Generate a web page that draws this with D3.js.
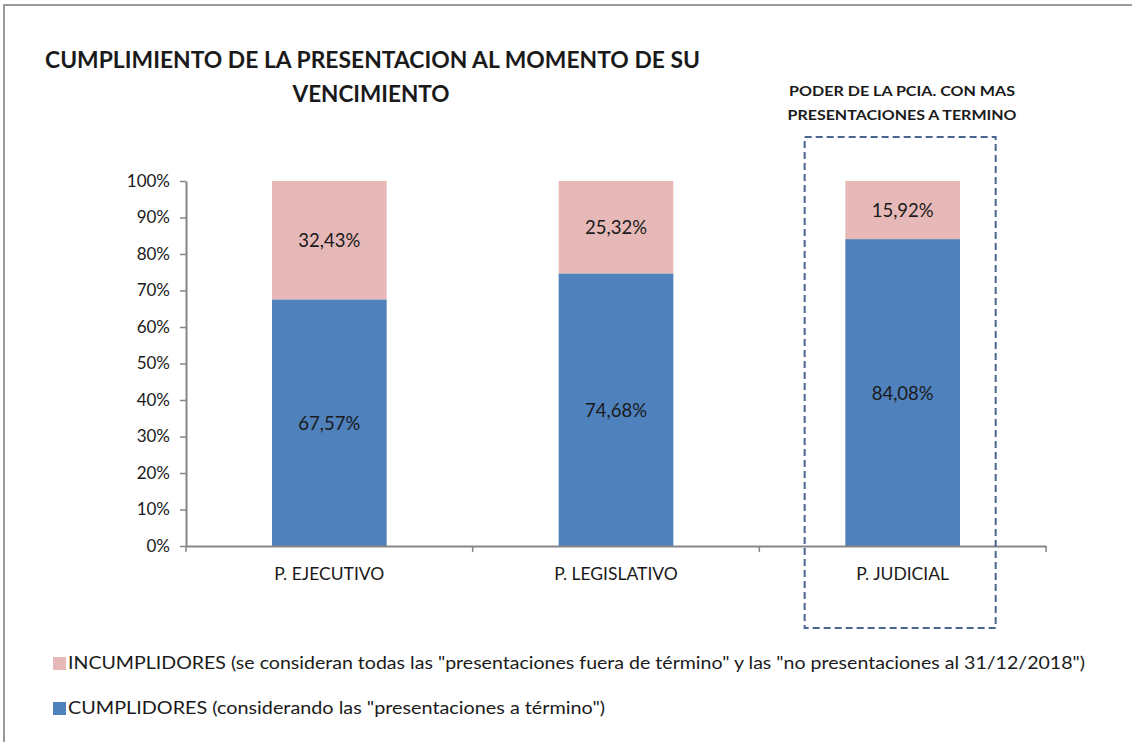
<!DOCTYPE html>
<html><head><meta charset="utf-8">
<script src="https://cdn.jsdelivr.net/npm/d3@7"></script>
<style>
body{margin:0;background:#fff;}
svg text{font-family:Lato,"Open Sans",sans-serif;fill:#1a1a1a;}
</style></head>
<body>
<svg id="c" width="1132" height="742"></svg>
<script>
const categories = ["P. EJECUTIVO", "P. LEGISLATIVO", "P. JUDICIAL"];
const cumplidores = [67.57, 74.68, 84.08];
const incumplidores = [32.43, 25.32, 15.92];
const yTicks = [0,10,20,30,40,50,60,70,80,90,100];
const seriesNames = ["INCUMPLIDORES (se consideran todas las \"presentaciones fuera de término\" y las \"no presentaciones al 31/12/2018\")",
                     "CUMPLIDORES (considerando las \"presentaciones a término\")"];
const titleLines = ["CUMPLIMIENTO DE LA PRESENTACION AL MOMENTO DE SU", "VENCIMIENTO"];
const noteLines = ["PODER DE LA PCIA. CON MAS", "PRESENTACIONES A TERMINO"];
const colors = {cump:"#4F81BD", inc:"#E6B9B8"};

const svg = d3.select("#c");
// outer border
svg.append("rect").attr("x",4).attr("y",5).attr("width",1200).attr("height",800)
  .attr("fill","none").attr("stroke","#9a9a9a").attr("stroke-width",2);

const x = d3.scaleBand().domain(categories).range([186,1046]).paddingInner(0.6).paddingOuter(0.3);
const y = d3.scaleLinear().domain([0,100]).range([546,181]);

function fitText(sel, w){ sel.attr("textLength", w).attr("lengthAdjust","spacingAndGlyphs"); }

// title
svg.append("text").attr("x",45).attr("y",68).attr("font-size",22).attr("font-weight",700).text(titleLines[0]).call(fitText,655);
svg.append("text").attr("x",371).attr("y",102).attr("font-size",22).attr("font-weight",700).attr("text-anchor","middle").text(titleLines[1]).call(fitText,157);
// note
svg.append("text").attr("x",902).attr("y",96).attr("font-size",13.5).attr("font-weight",700).attr("text-anchor","middle").text(noteLines[0]).call(fitText,226);
svg.append("text").attr("x",902).attr("y",120).attr("font-size",13.5).attr("font-weight",700).attr("text-anchor","middle").text(noteLines[1]).call(fitText,229);

// bars
const g = svg.append("g");
const fmt = v => v.toFixed(2).replace(".",",")+"%";
categories.forEach((c,i)=>{
  g.append("rect").attr("x",x(c)).attr("width",x.bandwidth())
    .attr("y",y(cumplidores[i])).attr("height",y(0)-y(cumplidores[i])).attr("fill",colors.cump);
  g.append("rect").attr("x",x(c)).attr("width",x.bandwidth())
    .attr("y",y(cumplidores[i]+incumplidores[i])).attr("height",y(cumplidores[i])-y(cumplidores[i]+incumplidores[i])).attr("fill",colors.inc);
  g.append("text").attr("x",x(c)+x.bandwidth()/2).attr("y",(y(0)+y(cumplidores[i]))/2)
    .attr("dy","0.38em").attr("text-anchor","middle").attr("font-size",18.5).text(fmt(cumplidores[i]));
  g.append("text").attr("x",x(c)+x.bandwidth()/2).attr("y",(y(cumplidores[i])+y(cumplidores[i]+incumplidores[i]))/2)
    .attr("dy","0.38em").attr("text-anchor","middle").attr("font-size",18.5).text(fmt(incumplidores[i]));
});

// y axis
const yAxis = svg.append("g").attr("transform","translate(186,0)")
  .call(d3.axisLeft(y).tickValues(yTicks).tickFormat(d=>d+"%").tickSize(6).tickSizeOuter(0));
yAxis.select(".domain").attr("stroke","#868686").attr("stroke-width",2);
yAxis.selectAll(".tick line").attr("stroke","#868686").attr("stroke-width",1.5);
yAxis.selectAll(".tick text").attr("font-size",17).attr("font-family","Lato").attr("fill","#1a1a1a").attr("x",-16);

// x axis
const xAxis = svg.append("g").attr("transform","translate(0,546)")
  .call(d3.axisBottom(x).tickSize(0).tickSizeOuter(0));
xAxis.select(".domain").attr("stroke","#868686").attr("stroke-width",2);
xAxis.selectAll(".tick text").attr("font-size",17.5).attr("font-family","Lato").attr("fill","#1a1a1a").attr("dy","0").attr("y",34);
// boundary ticks
const bounds = [0,1,2,3].map(k=>186 + k*x.step());
xAxis.selectAll(".bt").data(bounds).enter().append("line").attr("class","bt")
  .attr("x1",d=>d).attr("x2",d=>d).attr("y1",0).attr("y2",6).attr("stroke","#868686").attr("stroke-width",1.5);

// dashed highlight box
const jx = x("P. JUDICIAL") + x.bandwidth()/2;
svg.append("rect").attr("x",jx-98).attr("y",137).attr("width",191).attr("height",491)
  .attr("fill","none").attr("stroke","#4A6590").attr("stroke-width",2).attr("stroke-dasharray","7,4");

// legend
const leg = svg.append("g");
[[seriesNames[0],colors.inc,663,1017],[seriesNames[1],colors.cump,708,537]].forEach(([t,col,cy,w])=>{
  leg.append("rect").attr("x",53).attr("y",cy-6).attr("width",13).attr("height",13).attr("fill",col);
  leg.append("text").attr("x",68).attr("y",cy).attr("dy","0.36em").attr("font-size",18).text(t).call(fitText,w);
});
</script>
</body></html>
